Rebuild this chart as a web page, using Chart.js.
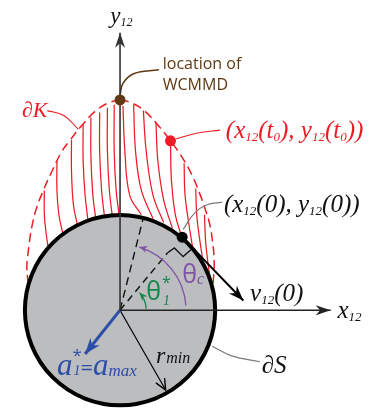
<!DOCTYPE html>
<html><head><meta charset="utf-8">
<script src="https://cdn.jsdelivr.net/npm/chart.js@4"></script>
<style>html,body{margin:0;padding:0;background:#fff}canvas{display:block}</style>
</head><body>
<canvas id="c" width="375" height="414"></canvas>
<script>
// ---------- data (diagram units, origin at circle centre, y up) ----------
const circleRadius = 98;
const axisX = [[0,0],[217,0]];
const axisY = [[0,0],[0,285]];
const envelopeRight = [[0,216],[12,213],[26,204],[40,189],[52,174],[64,157],[74,139],[82,120],[88,103],[92,90],[95,73],[97,50],[96,28]];
const envelopeLeft  = [[0,216],[-12,213],[-26,204],[-40,189],[-52,174],[-60,163],[-70,143],[-79,123],[-86,105],[-91,85],[-94,65],[-96,45],[-95,30]];
const trajectoriesRight = [
  [[3,210],[5,163],[10,118],[22,98]],
  [[14,211],[16,163],[22,123],[34,94]],
  [[24,205],[27,163],[34,118],[45,90]],
  [[37,193],[39,153],[45,113],[54,84]],
  [[52,172],[53,133],[57,98],[63,77]],
  [[66,151],[67,118],[71,88],[75,63]],
  [[78,125],[79,98],[82,73],[85,53]],
  [[87,98],[88,73],[90,53],[92,38]]
];
const trajectoriesLeft = [
  [[-6,211],[-6,163],[-4,123],[-1,98]],
  [[-13,208],[-13,163],[-11,123],[-8,97]],
  [[-21,203],[-21,163],[-19,123],[-16,96]],
  [[-30,198],[-30,158],[-28,118],[-25,94]],
  [[-38,191],[-38,153],[-36,118],[-33,92]],
  [[-50,175],[-50,143],[-48,108],[-44,88]],
  [[-65,153],[-65,123],[-63,98],[-59,79]],
  [[-78,123],[-78,98],[-76,78],[-74,64]]
];
const wcmmdPoint = [0,216];
const startPoint = [64,75];     // (x12(0), y12(0))
const t0Point = [52,174];       // (x12(t0), y12(t0))
const velocityVec = [[64,75],[127,10]];
const accelVec = [[0,0],[-36,-45]];
const rminVec = [[0,0],[47,-82]];
const dashedSteep = [[0,0],[24,95]];
const dashedPerp = [[0,0],[49,59]];
const rightAngleMark = [[49,59],[56,64],[65,55],[73,62]];
const leaderWCMMD = [[0,221],[3,233],[14,243],[40,247]];
const leaderT0 = [[58,176],[80,182],[103,185]];
const leaderK = [[-75,205],[-58,200],[-43,186]];
const leaderStart = [[65,83],[77,100],[89,108],[105,111]];
const leaderS = [[95,-37],[115,-47],[144,-53]];
const thetaCArc = {r:68, from:4, to:73};
const thetaIArc = {r:27, from:3, to:42};

// ---------- styles ----------
const RED='#ec1c24', BROWN='#603913', PURPLE='#8052a8', GREEN='#13874a', BLUE='#2b4ea6', GRAY='#7a7a7a';
const SERIF='"Liberation Serif","Times New Roman",serif';
const SANS='"Open Sans","Noto Sans",sans-serif';

const pts = a => a.map(p=>({x:p[0],y:p[1]}));
function line(arr, color, width, extra){
  return Object.assign({type:'scatter', data:pts(arr), showLine:true, borderColor:color, borderWidth:width,
    pointRadius:0, pointHoverRadius:0, fill:false, tension:0, order:5}, extra||{});
}
const datasets = [];
datasets.push({type:'scatter', data:pts([wcmmdPoint]), pointRadius:5.5, backgroundColor:BROWN, borderColor:BROWN, borderWidth:0, order:0});
datasets.push({type:'scatter', data:pts([t0Point]), pointRadius:5.5, backgroundColor:RED, borderColor:RED, borderWidth:0, order:0});
datasets.push({type:'scatter', data:pts([startPoint]), pointRadius:5.5, backgroundColor:'#000', borderColor:'#000', borderWidth:0, order:0});
datasets.push(line(axisX,'#222',1.6));
datasets.push(line(axisY,'#333',1.6));
datasets.push(line(velocityVec,'#000',2));
datasets.push(line(accelVec,BLUE,3));
datasets.push(line(rminVec,'#000',1.2));
datasets.push(line(dashedSteep,'#111',1.4,{borderDash:[8,5]}));
datasets.push(line(dashedPerp,'#111',1.4,{borderDash:[7,5]}));
datasets.push(line(rightAngleMark,'#111',1.4));
datasets.push(line(leaderWCMMD,BROWN,1.6,{tension:0.4}));
datasets.push(line(leaderStart,GRAY,1.2,{tension:0.4}));
datasets.push(line(leaderS,GRAY,1.2,{tension:0.4}));
datasets.push(line(leaderT0,RED,1.1,{tension:0.4,order:10}));
datasets.push(line(leaderK,RED,1.1,{tension:0.4,order:10}));
datasets.push(line(envelopeRight,RED,1.5,{tension:0.4,borderDash:[9,5],order:10}));
datasets.push(line(envelopeLeft,RED,1.5,{tension:0.4,borderDash:[9,5],order:10}));
trajectoriesRight.concat(trajectoriesLeft).forEach(t=>datasets.push(line(t,RED,1.25,{tension:0.4,order:10})));

// ---------- drawing helpers ----------
function px(chart,p){return {x:chart.scales.x.getPixelForValue(p[0]), y:chart.scales.y.getPixelForValue(p[1])};}
function arrowHead(ctx,a,b,len,w,color,open){
  const dx=b.x-a.x, dy=b.y-a.y, L=Math.hypot(dx,dy), ux=dx/L, uy=dy/L;
  const bx=b.x-ux*len, by=b.y-uy*len;
  ctx.save();
  ctx.beginPath();
  ctx.moveTo(bx-uy*w/2, by+ux*w/2); ctx.lineTo(b.x,b.y); ctx.lineTo(bx+uy*w/2, by-ux*w/2);
  if(open){ctx.strokeStyle=color; ctx.lineWidth=1.4; ctx.stroke();}
  else {ctx.lineTo(b.x-ux*len*0.7, b.y-uy*len*0.7); ctx.closePath(); ctx.fillStyle=color; ctx.fill();}
  ctx.restore();
}
function circlePath(chart){
  const c=px(chart,[0,0]); const r=chart.scales.x.getPixelForValue(circleRadius)-c.x;
  const ctx=chart.ctx; ctx.beginPath(); ctx.arc(c.x,c.y,r,0,Math.PI*2);
}
function drawArc(chart,arc,color){
  const ctx=chart.ctx, c=px(chart,[0,0]);
  const r=chart.scales.x.getPixelForValue(arc.r)-c.x;
  const a0=arc.from*Math.PI/180, a1=arc.to*Math.PI/180;
  ctx.save(); ctx.strokeStyle=color; ctx.lineWidth=1.3;
  ctx.beginPath(); ctx.arc(c.x,c.y,r,-a0,-a1,true); ctx.stroke(); ctx.restore();
  const tip={x:c.x+r*Math.cos(a1), y:c.y-r*Math.sin(a1)};
  const back={x:tip.x+Math.sin(a1)*6, y:tip.y+Math.cos(a1)*6};
  arrowHead(ctx,back,tip,8,7,color,false);
}
function runs(ctx,x,y,parts,color){
  let cx=x;
  for(const r of parts){
    ctx.font=r.f; ctx.fillStyle=r.c||color;
    ctx.fillText(r.t,cx+(r.dx||0),y+(r.dy||0));
    if(!r.stay) cx+=ctx.measureText(r.t).width+(r.dx||0);
  }
}
const I=(s)=>'italic '+s+'px '+SERIF;

const diagramPlugin={
  id:'diagram',
  beforeDatasetsDraw(chart){
    const ctx=chart.ctx; ctx.save(); circlePath(chart); ctx.fillStyle='#bcbdbf'; ctx.fill(); ctx.restore();
    chart.$outlineDone=false;
  },
  beforeDatasetDraw(chart,args){
    const ds=chart.data.datasets[args.index];
    if(!chart.$outlineDone && ds.order<10){
      const ctx=chart.ctx; ctx.save(); circlePath(chart); ctx.strokeStyle='#000'; ctx.lineWidth=4; ctx.stroke(); ctx.restore();
      chart.$outlineDone=true;
    }
  },
  afterDatasetsDraw(chart){
    const ctx=chart.ctx;
    const last=(arr)=>[px(chart,arr[arr.length-2]),px(chart,arr[arr.length-1])];
    let s;
    s=last(axisX); arrowHead(ctx,s[0],s[1],15,10,'#222',false);
    s=last(axisY); arrowHead(ctx,s[0],s[1],15,10,'#333',false);
    s=last(velocityVec); arrowHead(ctx,s[0],s[1],15,11,'#000',false);
    s=last(accelVec); arrowHead(ctx,s[0],s[1],16,12,BLUE,false);
    s=last(rminVec); arrowHead(ctx,s[0],s[1],11,10,'#000',true);
    drawArc(chart,thetaCArc,PURPLE);
    drawArc(chart,thetaIArc,GREEN);
    ctx.save(); ctx.textBaseline='alphabetic'; ctx.textAlign='left';
    const at=(p)=>px(chart,p);
    let q;
    q=at([-10,295]); runs(ctx,q.x,q.y,[{t:'y',f:I(23)},{t:'12',f:I(12),dy:3}],'#111');
    q=at([224,-8]); runs(ctx,q.x,q.y,[{t:'x',f:I(25)},{t:'12',f:I(13),dy:3}],'#111');
    q=at([-101,198]); runs(ctx,q.x,q.y,[{t:'∂K',f:I(22)}],RED);
    q=at([44,248]); runs(ctx,q.x,q.y,[{t:'location of',f:'16px '+SANS}],BROWN);
    q=at([44,226]); runs(ctx,q.x,q.y,[{t:'WCMMD',f:'16px '+SANS}],BROWN);
    q=at([109,177]); runs(ctx,q.x,q.y,[
      {t:'(',f:I(25)},{t:'x',f:I(25)},{t:'12',f:I(13),dy:3},{t:'(t',f:I(25)},{t:'0',f:I(13),dy:3},
      {t:'), ',f:I(25)},{t:'y',f:I(25)},{t:'12',f:I(13),dy:3},{t:'(t',f:I(25)},{t:'0',f:I(13),dy:3},{t:'))',f:I(25)}],RED);
    q=at([107,101]); runs(ctx,q.x,q.y,[
      {t:'(',f:I(25)},{t:'x',f:I(25)},{t:'12',f:I(13),dy:3},{t:'(0), ',f:I(25)},
      {t:'y',f:I(25)},{t:'12',f:I(13),dy:3},{t:'(0))',f:I(25)}],'#111');
    q=at([134,9]); runs(ctx,q.x,q.y,[{t:'v',f:I(25)},{t:'12',f:I(13),dy:3},{t:'(0)',f:I(25)}],'#111');
    q=at([64,28]); runs(ctx,q.x,q.y,[{t:'θ',f:'25px '+SANS},{t:'c',f:I(16),dy:1}],PURPLE);
    q=at([27,10]); runs(ctx,q.x,q.y,[{t:'θ',f:'25px '+SANS},{t:'*',f:'16px '+SANS,dy:-12,stay:true,dx:1},{t:'1',f:I(14),dy:5,dx:2}],GREEN);
    q=at([-65,-67]); runs(ctx,q.x,q.y,[{t:'a',f:I(31)},{t:'*',f:'17px '+SANS,dy:-14,stay:true},{t:'1',f:I(14),dy:0,dx:1},
      {t:'=',f:'22px '+SANS},{t:'a',f:I(31)},{t:'max',f:I(17),dy:1}],BLUE);
    q=at([37,-54]); runs(ctx,q.x,q.y,[{t:'r',f:I(24)},{t:'min',f:I(16),dy:0,dx:1}],'#111');
    q=at([146,-65]); runs(ctx,q.x,q.y,[{t:'∂S',f:I(25)}],'#111');
    ctx.restore();
  }
};

new Chart(document.getElementById('c'),{
  type:'scatter',
  data:{datasets},
  options:{
    responsive:false, animation:false, devicePixelRatio:1,
    layout:{padding:0},
    plugins:{legend:{display:false},tooltip:{enabled:false}},
    events:[],
    scales:{
      x:{type:'linear',min:-118,max:257,display:false},
      y:{type:'linear',min:-101,max:313,display:false}
    }
  },
  plugins:[diagramPlugin]
});
</script>
</body></html>
